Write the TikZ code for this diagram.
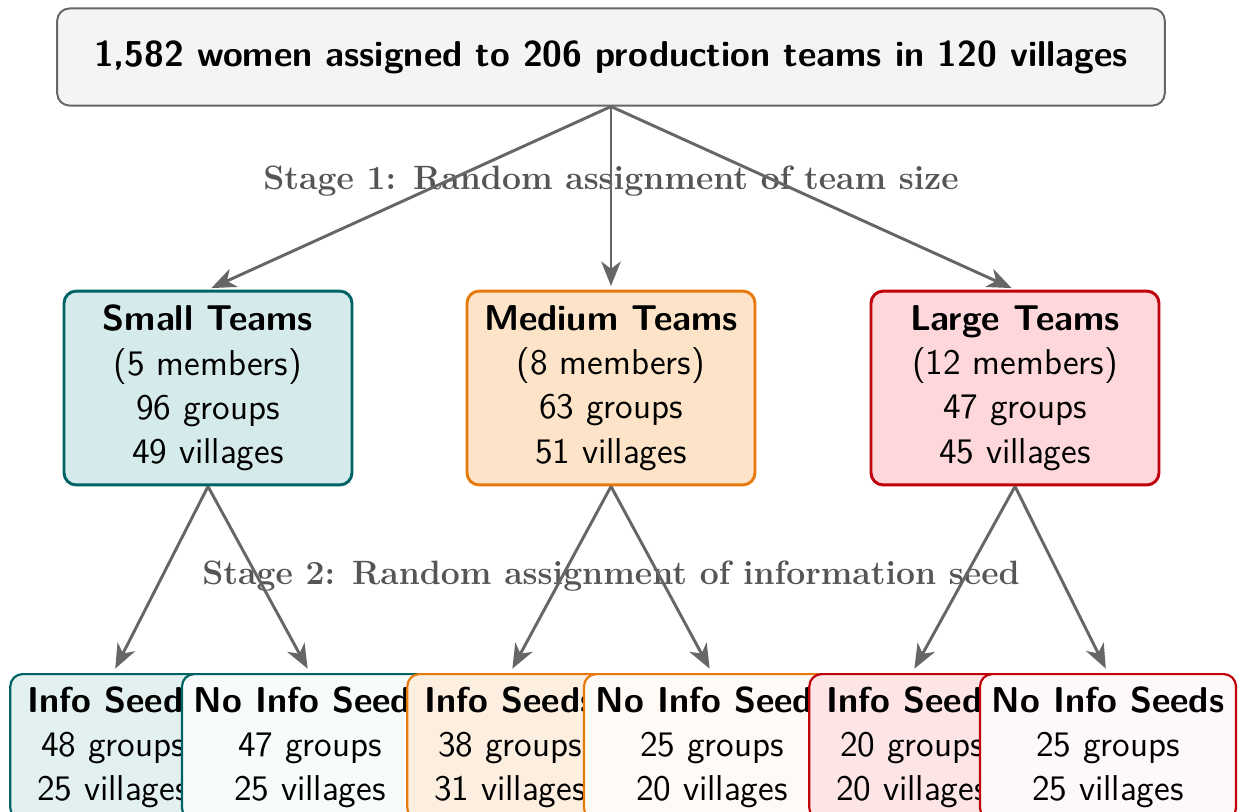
\documentclass[tikz,border=0pt]{standalone}
\usepackage{tikz}
\usetikzlibrary{arrows.meta}
\definecolor{arrgray}{HTML}{666666}
\definecolor{stagegray}{HTML}{555555}
\definecolor{topfill}{HTML}{F4F4F4}
\definecolor{tealb}{HTML}{006363}
\definecolor{orangeb}{HTML}{E8790C}
\definecolor{redb}{HTML}{C0000B}
\definecolor{smallfill}{HTML}{D5EAEB}
\definecolor{medfill}{HTML}{FDE3C7}
\definecolor{largefill}{HTML}{FDD7D9}
\definecolor{smallinfo}{HTML}{E3F0F0}
\definecolor{smallno}{HTML}{F7FBFB}
\definecolor{medinfo}{HTML}{FDEFDF}
\definecolor{medno}{HTML}{FFFAF5}
\definecolor{largeinfo}{HTML}{FDE5E6}
\definecolor{largeno}{HTML}{FFF8F8}
\begin{document}
\begin{tikzpicture}[x=0.409pt,y=-0.409pt,font=\sffamily\fontsize{14.7}{18.1}\selectfont,
  topbox/.style={draw=arrgray,fill=topfill,rounded corners=5pt,line width=0.8pt,minimum width=453pt,minimum height=39.7pt},
  midbox/.style={rounded corners=5pt,line width=1.2pt,minimum width=117.8pt,minimum height=79.3pt,align=center,inner sep=2pt},
  leafbox/.style={rounded corners=5pt,line width=0.9pt,anchor=north,align=center,inner xsep=2pt,inner ysep=5pt},
  infobox/.style={leafbox,minimum width=84pt},
  nobox/.style={leafbox,minimum width=104.7pt},
  stagelabel/.style={font=\rmfamily\bfseries\fontsize{13.8}{16}\selectfont,text=stagegray},
  arrow/.style={draw=arrgray,line width=1.2pt,-{Stealth[length=10pt,width=8pt,inset=3pt]}}
]
\useasboundingbox (0,0) rectangle (1238,811);
\node[topbox] (top) at (611,57) {\bfseries 1,582 women assigned to 206 production teams in 120 villages};
\node[stagelabel] (s1) at (611,181) {Stage 1: Random assignment of team size};
\node[stagelabel] (s2) at (611,576) {Stage 2: Random assignment of information seed};

\node[midbox,draw=tealb,fill=smallfill] (small) at (208,388) {\textbf{Small Teams}\\(5 members)\\96 groups\\49 villages};
\node[midbox,draw=orangeb,fill=medfill] (medium) at (611,388) {\textbf{Medium Teams}\\(8 members)\\63 groups\\51 villages};
\node[midbox,draw=redb,fill=largefill] (large) at (1015,388) {\textbf{Large Teams}\\(12 members)\\47 groups\\45 villages};

\draw[arrow,shorten >=1.5pt] (top.south) -- (small.north);
\draw[arrow,shorten >=1.5pt] (top.south) -- (medium.north);
\draw[arrow,shorten >=1.5pt] (top.south) -- (large.north);

\node[infobox,draw=tealb,fill=smallinfo] (si) at (113,673) {\textbf{Info Seeds}\\48 groups\\25 villages};
\node[nobox,draw=tealb,fill=smallno] (sn) at (310,673) {\textbf{No Info Seeds}\\47 groups\\25 villages};
\node[infobox,draw=orangeb,fill=medinfo] (mi) at (510,673) {\textbf{Info Seeds}\\38 groups\\31 villages};
\node[nobox,draw=orangeb,fill=medno] (mn) at (712,673) {\textbf{No Info Seeds}\\25 groups\\20 villages};
\node[infobox,draw=redb,fill=largeinfo] (li) at (912,673) {\textbf{Info Seeds}\\20 groups\\20 villages};
\node[nobox,draw=redb,fill=largeno] (ln) at (1108,673) {\textbf{No Info Seeds}\\25 groups\\25 villages};

\draw[arrow,shorten >=2pt] (small.south) -- (si.north);
\draw[arrow,shorten >=2pt] (small.south) -- (sn.north);
\draw[arrow,shorten >=2pt] (medium.south) -- (mi.north);
\draw[arrow,shorten >=2pt] (medium.south) -- (mn.north);
\draw[arrow,shorten >=2pt] (large.south) -- (li.north);
\draw[arrow,shorten >=2pt] (large.south) -- (ln.north);
\end{tikzpicture}
\end{document}
